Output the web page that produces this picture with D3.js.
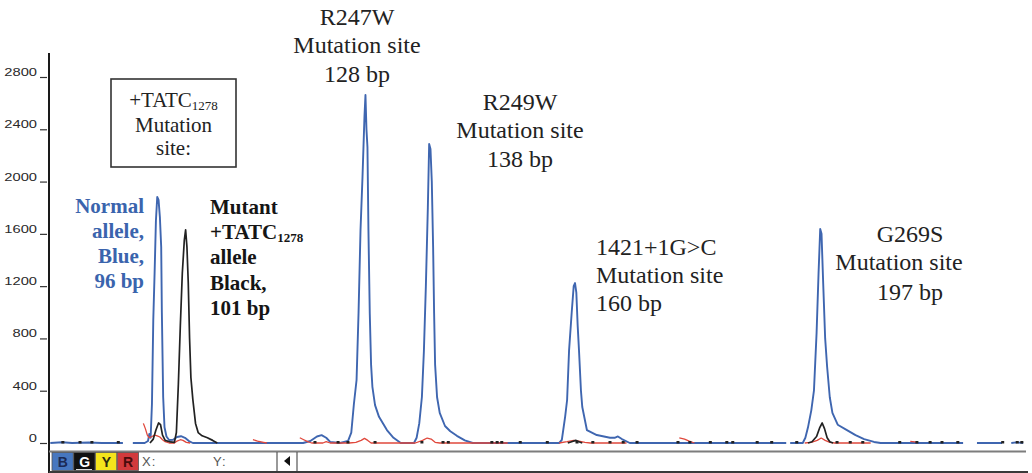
<!DOCTYPE html>
<html><head><meta charset="utf-8">
<script src="https://cdn.jsdelivr.net/npm/d3@7"></script>
<style>
html,body{margin:0;padding:0;background:#fff;}
svg{display:block;}
</style></head>
<body><svg id="chart" width="1032" height="473"></svg>
<script>
// ---------- data (size in bp, signal in RFU) ----------
const yTicks = [0, 400, 800, 1200, 1600, 2000, 2400, 2800];
const xDomainBp = [80, 228];

const blueTrace = [
 [80.2,0],[82,6],[83.5,0],[86,4],[88,0],[91.2,0], null,
 [92.7,0],[94.5,0],[95.0,15],[95.2,70],[95.4,40],[95.6,300],[95.8,941],[96.0,1300],[96.2,1700],[96.4,1882],[96.6,1860],[96.8,1729],[97.0,1500],[97.1,1000],[97.3,350],[97.5,120],[97.8,50],[98.2,23],[98.8,25],[99.4,46],[100.0,52],[100.6,40],[101.2,15],[101.8,0],[106,0],[112,0],[118.5,0],
 [119.6,15],[120.6,50],[121.3,60],[122.0,40],[122.6,8],[124.1,0],[125.3,15],[125.8,80],[126.2,300],[126.6,482],[126.9,995],[127.2,1630],[127.5,2035],[127.8,2500],[127.95,2662],[128.1,2400],[128.25,2264],[128.4,1630],[128.6,995],[128.8,600],[129.0,430],[129.4,290],[130.0,200],[131.2,99],[132.2,40],[133.3,0],
 [135.3,0],[135.7,40],[136.1,150],[136.5,352],[136.8,700],[137.1,1200],[137.4,1800],[137.6,2287],[137.8,2250],[138.0,2000],[138.2,1500],[138.35,995],[138.5,600],[138.8,350],[139.2,230],[140.0,130],[140.8,90],[141.8,55],[143.0,20],[144.2,0],[150,0],
 [157.3,0],[157.7,23],[158.2,200],[158.5,329],[158.8,711],[159.2,1000],[159.5,1200],[159.7,1224],[159.9,1150],[160.1,900],[160.3,711],[160.6,400],[160.8,275],[161.5,99],[163.0,61],[165.0,40],[165.7,40],[166.2,50],[166.8,30],[168,0],[180,0],[191.7,0], null,
 [192.3,0],[194.2,0],[194.6,40],[195.0,120],[195.5,250],[195.9,400],[196.3,842],[196.6,1300],[196.85,1637],[197.05,1600],[197.3,1224],[197.6,800],[197.9,581],[198.3,350],[198.7,230],[199.5,140],[200.9,99],[202.2,60],[203.5,30],[205.0,8],[206,0],[212,0],[218.5,0], null,
 [220.6,0],[224.4,0], null,
 [225.8,0],[226.6,5],[227.6,0]
];

const blackTrace = [
 [95.3,0],[95.8,30],[96.2,100],[96.6,153],[96.9,140],[97.2,60],[97.6,20],[98.4,8],[99.0,5],[99.3,80],[99.6,450],[99.9,900],[100.2,1300],[100.5,1550],[100.7,1630],[100.9,1500],[101.1,1224],[101.3,800],[101.5,500],[101.8,330],[102.2,150],[102.6,80],[103.2,55],[104.0,40],[104.8,20],[105.5,0], null,
 [158.6,0],[159.3,12],[159.8,20],[160.3,10],[160.8,0], null,
 [195.0,0],[195.6,10],[196.3,50],[196.8,120],[197.15,153],[197.5,110],[197.9,40],[198.3,10],[198.8,0]
];

const redTrace = [
 [94.3,150],[94.6,110],[94.9,60],[95.2,40],[95.6,50],[96.0,60],[96.4,55],[96.8,46],[97.2,25],[97.6,10],[98.2,0],[99.0,0],[99.4,15],[99.9,25],[100.3,20],[100.8,5],[101.4,0], null,
 [110.9,25],[111.6,15],[112.5,5],[113.0,0], null,
 [118.0,40],[118.6,25],[119.2,10],[119.8,0],[121.5,0],[122.0,10],[122.6,0],[125.5,0],[126.5,5],[127.3,20],[127.8,35],[128.3,20],[128.8,0],[133,0],[135.5,0],[136.6,20],[137.3,38],[137.9,30],[138.5,5],[139.2,0],[145,0],[149.5,0], null,
 [157.3,0],[158.5,10],[159.5,20],[160.3,15],[161.2,5],[162,0],[167.5,0], null,
 [175.5,40],[176.3,30],[177.0,15],[177.8,0], null,
 [194.5,0],[195.5,5],[196.4,20],[197.0,38],[197.6,20],[198.3,5],[199,0],[204.5,0], null,
 [210.5,12],[211.2,8],[211.6,0]
];

const blackBlips = [82.1, 84.7, 86.5, 90.5, 120.3, 123.8, 125.3, 129.4, 136.5, 139.7, 140.5,
  147.1, 147.9, 148.6, 151.4, 155.5, 160.0, 162.4, 165.0, 167.0, 169.1, 175.3, 177.1, 180.2,
  182.7, 183.6, 187.3, 189.5, 193.3, 199.4, 201.4, 203.3, 208.9, 211.5, 213.5, 215.3, 217.7,
  224.5, 226.7, 227.4];

const boxLines = ["+TATC|1278", "Mutation", "site:"];
const normalLines = ["Normal", "allele,", "Blue,", "96 bp"];
const mutantLines = ["Mutant", "+TATC|1278", "allele", "Black,", "101 bp"];
const r247Lines = ["R247W", "Mutation site", "128 bp"];
const r249Lines = ["R249W", "Mutation site", "138 bp"];
const m1421Lines = ["1421+1G>C", "Mutation site", "160 bp"];
const g269Lines = ["G269S", "Mutation site", "197 bp"];
const channelKeys = ["B", "G", "Y", "R"];
const toolbarTexts = ["X:", "Y:"];

// ---------- drawing ----------
const svg = d3.select("#chart");
const W = 1032, H = 473;
svg.append("rect").attr("width", W).attr("height", H).attr("fill", "#fff");

const x = d3.scaleLinear().domain(xDomainBp).range([49, 1025.8]);
const y = d3.scaleLinear().domain([0, 2800]).range([443, 77]);

const serif = "'Liberation Serif','Times New Roman',Times,serif";
const sans = "'Liberation Sans',Arial,Helvetica,sans-serif";

// y axis ticks
const axis = d3.axisLeft(y).tickValues(yTicks).tickSize(7).tickFormat(d3.format("d"));
const gA = svg.append("g").attr("transform", "translate(47,0)").call(axis);
gA.select(".domain").remove();
gA.selectAll(".tick line").attr("stroke", "#333").attr("stroke-width", 1.2);
gA.selectAll(".tick text")
  .attr("x", 0).attr("dy", 0)
  .attr("transform", "translate(-10,-1.5) scale(1.28,1)")
  .attr("text-anchor", "end")
  .attr("fill", "#2a2a2a")
  .style("font-family", sans).style("font-size", "11.5px");

// main vertical axis line
svg.append("line").attr("x1", 49).attr("x2", 49).attr("y1", 53).attr("y2", 473)
  .attr("stroke", "#1a1a1a").attr("stroke-width", 2);

// traces
const line = d3.line().defined(d => d !== null).x(d => x(d[0])).y(d => y(d[1]));
svg.append("path").datum(blueTrace).attr("d", line)
  .attr("fill", "none").attr("stroke", "#3f66b0").attr("stroke-width", 1.9).attr("stroke-linejoin", "round");
svg.append("path").datum(redTrace).attr("d", line)
  .attr("fill", "none").attr("stroke", "#e0483c").attr("stroke-width", 1.3).attr("stroke-linejoin", "round");
svg.append("path").datum(blackTrace).attr("d", line)
  .attr("fill", "none").attr("stroke", "#222").attr("stroke-width", 1.7).attr("stroke-linejoin", "round");
svg.selectAll("rect.blip").data(blackBlips).join("rect").attr("class", "blip")
  .attr("x", d => x(d) - 1.5).attr("y", y(0) - 2).attr("width", 3).attr("height", 2.5)
  .attr("fill", "#222");

// helper for lines with subscript (marked by "|")
function addLines(lines, opts) {
  const g = svg.append("g");
  lines.forEach((s, i) => {
    const t = g.append("text")
      .attr("x", Array.isArray(opts.x) ? opts.x[i] : opts.x)
      .attr("y", opts.y[i])
      .attr("text-anchor", opts.anchor)
      .attr("fill", opts.fill)
      .attr("font-weight", opts.bold ? "bold" : "normal")
      .style("font-family", serif).style("font-size", opts.size + "px");
    const parts = s.split("|");
    t.append("tspan").text(parts[0]);
    if (parts[1]) {
      t.append("tspan").attr("dy", 3).style("font-size", (opts.size * 0.62) + "px").text(parts[1]);
    }
  });
}

// box annotation
svg.append("rect").attr("x", 111).attr("y", 79).attr("width", 125).attr("height", 88)
  .attr("fill", "none").attr("stroke", "#333").attr("stroke-width", 1.6);
addLines(boxLines, {x: 173.5, y: [107, 131.5, 155], anchor: "middle", fill: "#222", size: 21});
addLines(normalLines, {x: 144, y: [213, 238, 263, 288], anchor: "end", fill: "#3a64ad", size: 21, bold: true});
addLines(mutantLines, {x: 210, y: [214, 239, 264, 289.5, 315], anchor: "start", fill: "#151515", size: 21, bold: true});
addLines(r247Lines, {x: 357, y: [25, 53, 82], anchor: "middle", fill: "#222", size: 24});
addLines(r249Lines, {x: 520, y: [110, 138, 167], anchor: "middle", fill: "#222", size: 24});
addLines(m1421Lines, {x: 596, y: [255, 283, 311], anchor: "start", fill: "#222", size: 24});
addLines(g269Lines, {x: [910, 899, 910], y: [242, 270, 300], anchor: "middle", fill: "#222", size: 24});

// bottom toolbar
svg.append("line").attr("x1", 49).attr("x2", 1026).attr("y1", 451.5).attr("y2", 451.5)
  .attr("stroke", "#7d7d7d").attr("stroke-width", 2);
svg.append("line").attr("x1", 49).attr("x2", 1028).attr("y1", 472).attr("y2", 472)
  .attr("stroke", "#3a3a3a").attr("stroke-width", 2);

const keyFill = {B: "#4777bf", G: "#111", Y: "#f4e41c", R: "#d23a3c"};
const keyText = {B: "#1b2a55", G: "#fff", Y: "#2a2a10", R: "#4a0c0c"};
const keyX = d3.scaleBand().domain(channelKeys).range([52, 139]).padding(0);
const gK = svg.append("g");
channelKeys.forEach(k => {
  gK.append("rect").attr("x", keyX(k)).attr("y", 452.5).attr("width", keyX.bandwidth() - 0.5).attr("height", 18)
    .attr("fill", keyFill[k]).attr("stroke", "#555").attr("stroke-width", 0.8);
  gK.append("text").attr("x", keyX(k) + keyX.bandwidth() / 2).attr("y", 466.5)
    .attr("text-anchor", "middle").attr("fill", keyText[k]).attr("font-weight", "bold")
    .style("font-family", sans).style("font-size", "14px").text(k);
});
svg.append("line").attr("x1", 76).attr("x2", 92).attr("y1", 469.5).attr("y2", 469.5).attr("stroke", "#ddd").attr("stroke-width", 1);

svg.append("text").attr("x", 142).attr("y", 466).attr("fill", "#555")
  .style("font-family", sans).style("font-size", "13px").style("letter-spacing", "1px").text(toolbarTexts[0]);
svg.append("text").attr("x", 213).attr("y", 466).attr("fill", "#555")
  .style("font-family", sans).style("font-size", "13px").style("letter-spacing", "1px").text(toolbarTexts[1]);
[277, 297].forEach(sx => svg.append("line").attr("x1", sx).attr("x2", sx).attr("y1", 452).attr("y2", 471)
  .attr("stroke", "#555").attr("stroke-width", 1.2));
svg.append("path").attr("d", "M284,461 L290,456 L290,466 Z").attr("fill", "#111");
</script>
</body></html>
